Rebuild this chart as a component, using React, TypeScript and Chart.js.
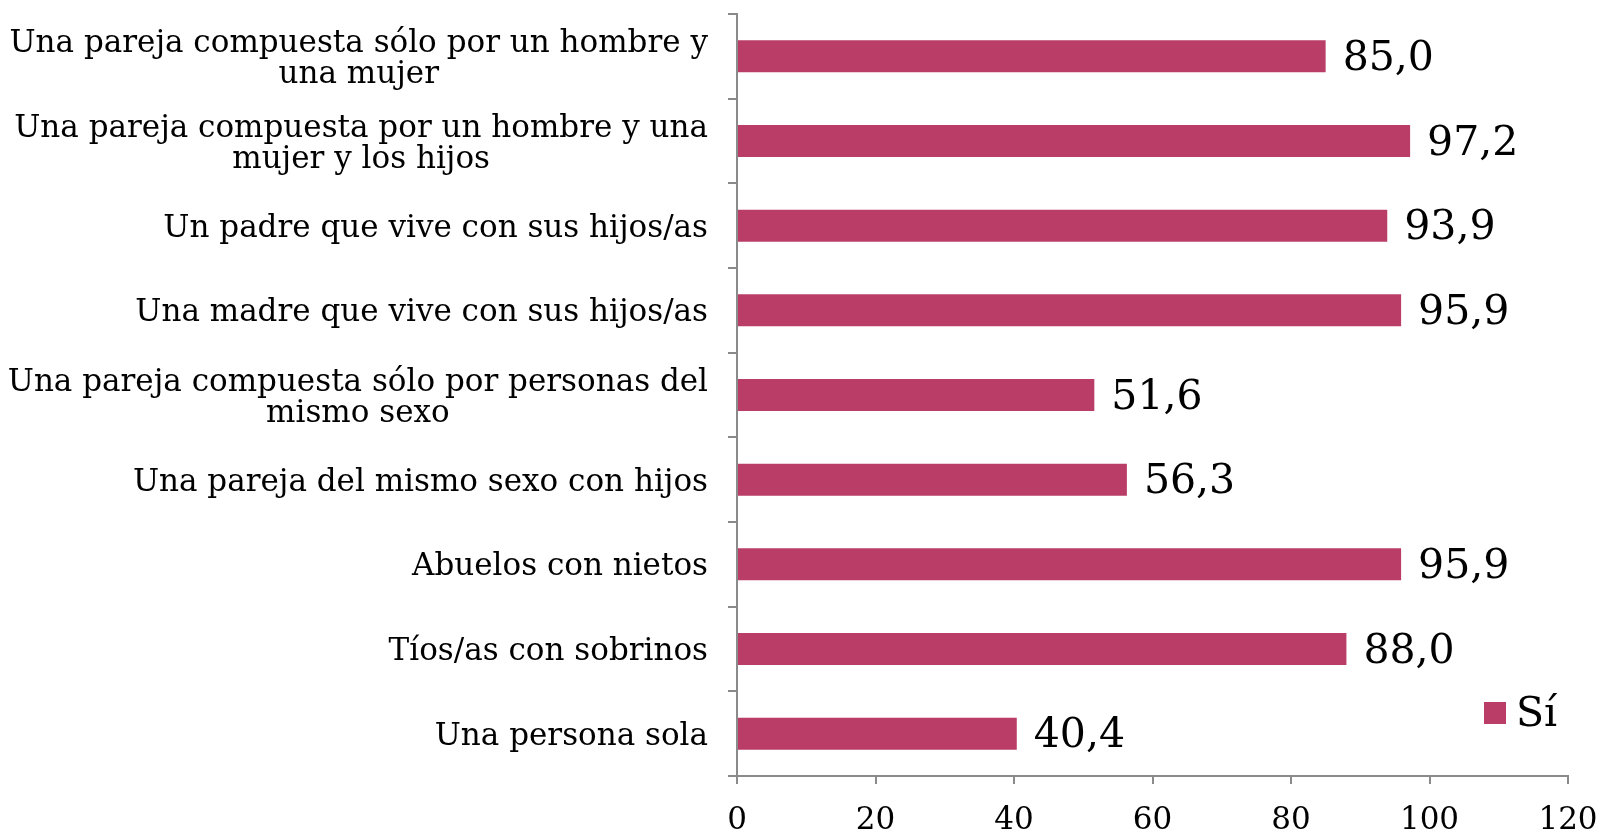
import React, { useEffect, useRef } from "react";
import { Chart, registerables } from "chart.js";

Chart.register(...registerables);

const categories: string[][] = [
  ["Una pareja compuesta sólo por un hombre y", "una mujer"],
  ["Una pareja compuesta por un hombre y una", "mujer y los hijos"],
  ["Un padre que vive con sus hijos/as"],
  ["Una madre que vive con sus hijos/as"],
  ["Una pareja compuesta sólo por personas del", "mismo sexo"],
  ["Una pareja del mismo sexo con hijos"],
  ["Abuelos con nietos"],
  ["Tíos/as con sobrinos"],
  ["Una persona sola"],
];

const seriesName = "Sí";
const seriesValues: number[] = [85.0, 97.2, 93.9, 95.9, 51.6, 56.3, 95.9, 88.0, 40.4];

const xMin = 0;
const xMax = 120;
const xStep = 20;

const BAR_COLOR = "#BA3D68";
const AXIS_COLOR = "#8A8A8A";
const FONT = "'DejaVu Serif', serif";

const customDraw = {
  id: "customDraw",
  afterDraw(chart: any) {
    const ctx = chart.ctx;
    const yScale = chart.scales.y;
    const area = chart.chartArea;
    ctx.save();
    // category labels: block right-aligned, lines centered within block
    ctx.font = `31px ${FONT}`;
    ctx.fillStyle = "#000";
    ctx.textAlign = "center";
    ctx.textBaseline = "middle";
    const lineH = 31;
    const rightEdge = area.left - 9 - 20;
    categories.forEach((lines, i) => {
      const y = yScale.getPixelForValue(i) + 3;
      const w = Math.max(...lines.map((l) => ctx.measureText(l).width));
      const cx = rightEdge - w / 2;
      const y0 = y - ((lines.length - 1) * lineH) / 2;
      lines.forEach((l, j) => ctx.fillText(l, cx, y0 + j * lineH));
    });
    // value labels
    ctx.font = `41px ${FONT}`;
    ctx.textAlign = "left";
    const meta = chart.getDatasetMeta(0);
    meta.data.forEach((bar: any, i: number) => {
      const v = seriesValues[i];
      ctx.fillText(v.toFixed(1).replace(".", ","), bar.x + 17, bar.y + 3);
    });
    // legend
    const lx = area.right - 84;
    const ly = area.bottom - 63;
    ctx.fillStyle = BAR_COLOR;
    ctx.fillRect(lx, ly - 11, 22, 22);
    ctx.fillStyle = "#000";
    ctx.font = `41px ${FONT}`;
    ctx.fillText(seriesName, lx + 32, ly + 2);
    ctx.restore();
  },
};

export default function App() {
  const ref = useRef<HTMLCanvasElement>(null);
  useEffect(() => {
    if (!ref.current) return;
    const chart = new Chart(ref.current, {
      type: "bar",
      data: {
        labels: categories.map((c) => c.join(" ")),
        datasets: [
          {
            label: seriesName,
            data: seriesValues,
            backgroundColor: BAR_COLOR,
            borderWidth: 0,
            categoryPercentage: 1,
            barPercentage: 0.378,
          },
        ],
      },
      options: {
        indexAxis: "y",
        animation: false,
        responsive: false,
        maintainAspectRatio: false,
        layout: { padding: { top: 14, right: 33, left: 0, bottom: 0 } },
        plugins: {
          legend: { display: false },
          tooltip: { enabled: false },
        },
        scales: {
          y: {
            offset: true,
            grid: {
              display: true,
              offset: true,
              drawOnChartArea: false,
              drawTicks: true,
              tickLength: 9,
              color: AXIS_COLOR,
              lineWidth: 2,
            },
            border: { display: true, color: AXIS_COLOR, width: 2 },
            ticks: { display: false },
            afterFit(scale: any) {
              scale.width = 737;
              scale.paddingTop = 0;
              scale.paddingBottom = 0;
            },
          },
          x: {
            min: xMin,
            max: xMax,
            grid: {
              display: true,
              drawOnChartArea: false,
              drawTicks: true,
              tickLength: 8,
              color: AXIS_COLOR,
              lineWidth: 2,
            },
            border: { display: true, color: AXIS_COLOR, width: 2 },
            ticks: {
              stepSize: xStep,
              color: "#000",
              font: { family: FONT, size: 31 },
              padding: 18,
              maxRotation: 0,
            },
            afterFit(scale: any) {
              scale.height = 53;
              scale.paddingLeft = 0;
              scale.paddingRight = 0;
            },
          },
        },
      },
      plugins: [customDraw],
    });
    return () => chart.destroy();
  }, []);
  return (
    <div style={{ position: "fixed", left: 0, top: 0, width: 1601, height: 829, background: "#fff" }}>
      <canvas ref={ref} width={1601} height={829} style={{ width: 1601, height: 829, display: "block" }} />
    </div>
  );
}
